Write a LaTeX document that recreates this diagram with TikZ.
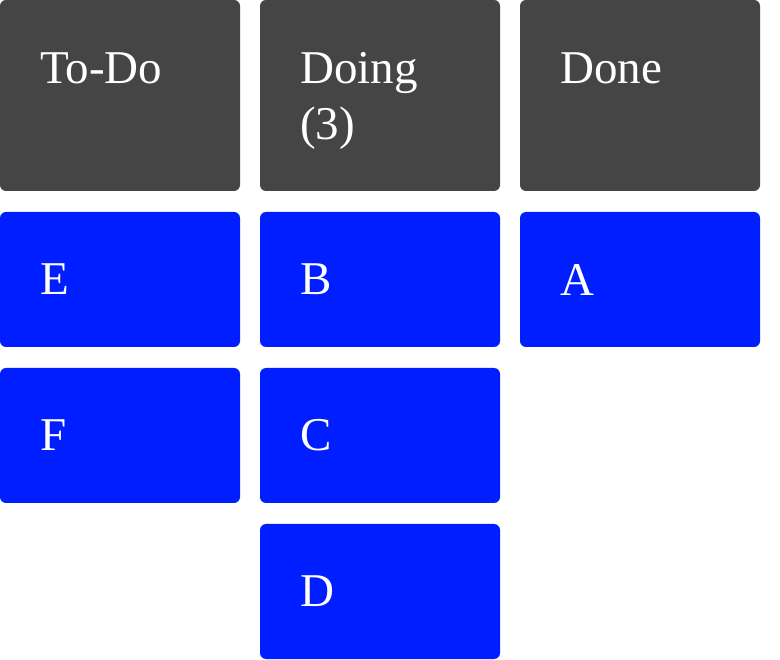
\documentclass[tikz,border=0pt]{standalone}
\usepackage{fontspec}
\setmainfont{Liberation Serif}
\definecolor{headgray}{RGB}{69,69,69}
\definecolor{cardblue}{RGB}{0,30,255}
\tikzset{head/.style={fill=headgray, rounded corners=6pt, minimum width=240pt, minimum height=191pt, inner sep=0pt},
  card/.style={fill=cardblue, rounded corners=6pt, minimum width=240pt, minimum height=135pt, inner xsep=40pt, inner ysep=0pt, text width=160pt, align=left, text=white, font=\fontsize{47}{56.5}\selectfont},
  headtext/.style={anchor=base west, inner sep=0pt, text=white, align=left, font=\fontsize{47}{56.5}\selectfont}}

\begin{document}
\begin{tikzpicture}[x=1pt, y=-1pt]
   \useasboundingbox (0,0) rectangle (780,660);
   % column headers
   \node[head] (htodo) at (120,95.5) {};
   \node[head] (hdoing) at (380,95.5) {};
   \node[head] (hdone) at (640,95.5) {};
   \node[headtext] (ttodo) at (40,83.5) {To-Do};
   % base of a two-line node is its last line
   \node[headtext] (tdoing) at (300,140) {Doing\\(3)};
   \node[headtext] (tdone) at (560,83.5) {Done};
   % cards
   \node[card] (e) at (120,279.5) {E};
   \node[card] (f) at (120,435.5) {F};
   \node[card] (b) at (380,279.5) {B};
   \node[card] (c) at (380,435.5) {C};
   \node[card] (d) at (380,591.5) {D};
   \node[card] (a) at (640,279.5) {A};
  \end{tikzpicture}
\end{document}
